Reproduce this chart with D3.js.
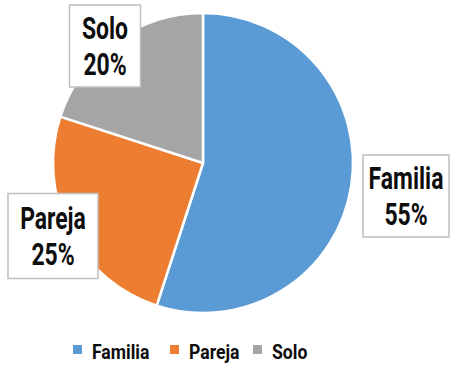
<!DOCTYPE html>
<html>
<head>
<meta charset="utf-8">
<script src="https://cdn.jsdelivr.net/npm/d3@7"></script>
<style>
  html, body { margin: 0; padding: 0; background: #fff; }
  svg text { font-family: "Roboto", "Liberation Sans", sans-serif; font-weight: bold; fill: #0d0d0d; }
</style>
</head>
<body>
<svg id="chart" width="452" height="366"></svg>
<script>
// Travel group composition
const categories = ["Familia", "Pareja", "Solo"];
const shares = [55, 25, 20];
const colors = ["#5B9BD5", "#ED7D31", "#A5A5A5"];

// Data-label box placement (centre of each callout box)
const labelBoxes = [
  { cx: 406, cy: 196, w: 86, h: 82 },
  { cx: 53,  cy: 236, w: 90, h: 85 },
  { cx: 105, cy: 46,  w: 71, h: 82 }
];

const svg = d3.select("#chart");
const cx = 203, cy = 163, radius = 150;

const pie = d3.pie().sort(null).value(d => d)(shares);
const arc = d3.arc().innerRadius(0).outerRadius(radius);

const g = svg.append("g").attr("transform", `translate(${cx},${cy})`);
g.selectAll("path.slice")
  .data(pie)
  .join("path")
  .attr("class", "slice")
  .attr("d", arc)
  .attr("fill", (d, i) => colors[i])
  .attr("stroke", "#fff")
  .attr("stroke-width", 2.5)
  .attr("stroke-linejoin", "round");

// Callout labels (condensed lettering via horizontal scale)
const lbl = svg.selectAll("g.lbl")
  .data(pie)
  .join("g")
  .attr("class", "lbl")
  .attr("transform", (d, i) => `translate(${labelBoxes[i].cx},${labelBoxes[i].cy})`);

lbl.append("rect")
  .attr("x", (d, i) => -labelBoxes[i].w / 2)
  .attr("y", (d, i) => -labelBoxes[i].h / 2)
  .attr("width", (d, i) => labelBoxes[i].w)
  .attr("height", (d, i) => labelBoxes[i].h)
  .attr("fill", "#fff")
  .attr("stroke", "#BFBFBF")
  .attr("stroke-width", 1.5);

lbl.append("text")
  .attr("text-anchor", "middle")
  .attr("transform", "translate(0,-7) scale(0.74,1)")
  .attr("font-size", 31)
  .text((d, i) => categories[i]);

lbl.append("text")
  .attr("text-anchor", "middle")
  .attr("transform", "translate(0,29) scale(0.74,1)")
  .attr("font-size", 31)
  .text(d => d.data + "%");

// Legend
const legendX = [73, 170, 253];
const legend = svg.selectAll("g.leg")
  .data(categories)
  .join("g")
  .attr("class", "leg")
  .attr("transform", (d, i) => `translate(${legendX[i]},345)`);
legend.append("rect")
  .attr("width", 9).attr("height", 9)
  .attr("fill", (d, i) => colors[i]);
legend.append("text")
  .attr("transform", "translate(19,14) scale(0.88,1)")
  .attr("font-size", 20)
  .text(d => d);
</script>
</body>
</html>
